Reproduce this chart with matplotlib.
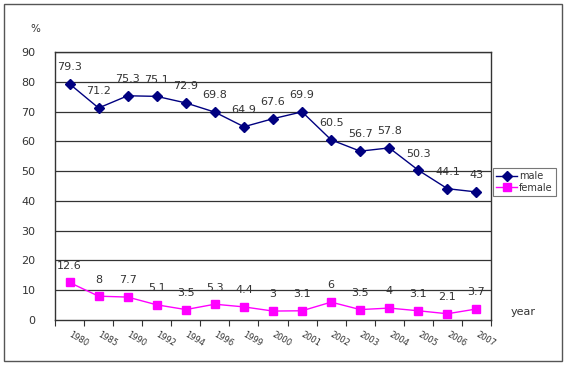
import matplotlib
matplotlib.use("Agg")
import matplotlib.pyplot as plt
import matplotlib.transforms as mtransforms
from matplotlib.patches import Rectangle
import numpy as np

years = ["1980", "1985", "1990", "1992", "1994", "1996", "1999", "2000",
         "2001", "2002", "2003", "2004", "2005", "2006", "2007"]
male = [79.3, 71.2, 75.3, 75.1, 72.9, 69.8, 64.9, 67.6, 69.9, 60.5, 56.7, 57.8, 50.3, 44.1, 43]
female = [12.6, 8, 7.7, 5.1, 3.5, 5.3, 4.4, 3, 3.1, 6, 3.5, 4, 3.1, 2.1, 3.7]
male_labels = ["79.3", "71.2", "75.3", "75.1", "72.9", "69.8", "64.9", "67.6", "69.9",
               "60.5", "56.7", "57.8", "50.3", "44.1", "43"]
female_labels = ["12.6", "8", "7.7", "5.1", "3.5", "5.3", "4.4", "3", "3.1", "6",
                 "3.5", "4", "3.1", "2.1", "3.7"]
yticks = [0, 10, 20, 30, 40, 50, 60, 70, 80, 90]

W, H = 567, 369
fig = plt.figure(figsize=(W / 100, H / 100), dpi=100)
fig.patch.set_facecolor("white")

# outer border
fig.patches.append(Rectangle((4 / W, 1 - 361 / H), 558 / W, 357 / H,
                             transform=fig.transFigure, fill=False,
                             edgecolor="#555555", linewidth=1.0))

ax = fig.add_axes([55 / W, 1 - 320 / H, 436 / W, 268 / H])
n = len(years)
x = np.arange(n)
ax.set_xlim(-0.5, n - 0.5)
ax.set_ylim(0, 90)

for v in yticks[1:]:
    ax.axhline(v, color="#333333", linewidth=0.9, zorder=1)

ax.plot(x, male, color="#000080", marker="D", markersize=5, linewidth=1.0,
        label="male", zorder=3)
ax.plot(x, female, color="#FF00FF", marker="s", markersize=6, linewidth=1.0,
        label="female", zorder=3)

for xi, v, t in zip(x, male, male_labels):
    ax.annotate(t, (xi, v), xytext=(0, 12), textcoords="offset points",
                ha="center", va="center", fontsize=8, color="#333333")
for xi, v, t in zip(x, female, female_labels):
    ax.annotate(t, (xi, v), xytext=(0, 12), textcoords="offset points",
                ha="center", va="center", fontsize=8, color="#333333")

ax.set_yticks(yticks)
ax.set_yticklabels([str(v) for v in yticks], fontsize=8, color="#333333")
ax.tick_params(axis="y", length=0, pad=14)

ax.set_xticks(x)
ax.set_xticklabels(years, rotation=-30, fontsize=6, color="#333333",
                   ha="center", va="center")
ax.tick_params(axis="x", which="major", length=0, pad=14)
ax.set_xticks(np.arange(-0.5, n, 1.0), minor=True)
ax.tick_params(axis="x", which="minor", length=4, direction="out",
               color="#333333", width=0.8)
offset = mtransforms.ScaledTranslation(9 / 100, 0, fig.dpi_scale_trans)
for lbl in ax.get_xticklabels():
    lbl.set_transform(lbl.get_transform() + offset)

for side in ["left", "bottom", "right", "top"]:
    ax.spines[side].set_color("#333333")
    ax.spines[side].set_linewidth(1.0)

fig.text(35 / W, 1 - 29 / H, "%", fontsize=7.5, color="#333333",
         ha="center", va="center")
fig.text(523 / W, 1 - 312 / H, "year", fontsize=8, color="#333333",
         ha="center", va="center")

leg = ax.legend(loc="upper left", bbox_to_anchor=(493 / W, 1 - 168 / H),
                bbox_transform=fig.transFigure, fontsize=7, frameon=True,
                fancybox=False, edgecolor="#555555", borderpad=0.3,
                handlelength=2.2, handletextpad=0.2, labelspacing=0.2,
                borderaxespad=0)
leg.get_frame().set_linewidth(0.8)
for t in leg.get_texts():
    t.set_color("#333333")

fig.savefig("out.png", dpi=100, facecolor="white")
